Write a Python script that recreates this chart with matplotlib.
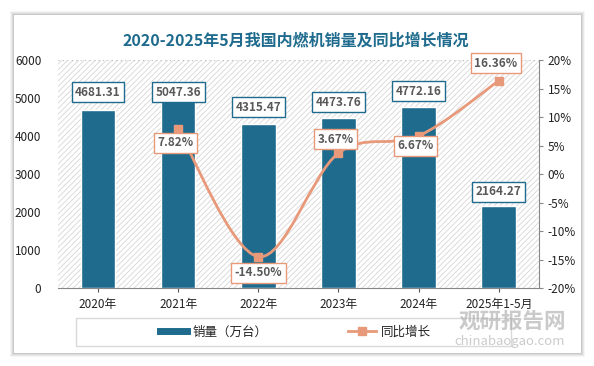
import numpy as np
import matplotlib.pyplot as plt
from matplotlib.patches import Rectangle, PathPatch
from matplotlib.path import Path
from matplotlib.lines import Line2D

plt.rcParams['font.family'] = ['Noto Sans CJK SC', 'DejaVu Sans']
plt.rcParams['hatch.linewidth'] = 0.6
plt.rcParams['hatch.color'] = '#d6d6d6'

years = ['2020年', '2021年', '2022年', '2023年', '2024年', '2025年1-5月']
sales = [4681.31, 5047.36, 4315.47, 4473.76, 4772.16, 2164.27]
growth = [7.82, -14.50, 3.67, 6.67, 16.36]   # 2021 .. 2025
# label offsets (points)
sales_off = [13, 3, 12, 11.5, 11, 10]
growth_off = [(-2, -9.5), (0, -11.5), (-2, 10), (-2, -7), (-2, 12.5)]

BAR = '#1f6b8e'
LINE = '#e8997a'
TXT = '#595959'

fig = plt.figure(figsize=(5.94, 3.66), dpi=100)
fig.patch.set_facecolor('white')

# card with soft shadow
for i, a in enumerate([0.04, 0.05, 0.06, 0.08]):
    d = (4 - i) / 594
    fig.patches.append(Rectangle((0.0236 - d, 0.0355 - d * 1.6), 0.9545 + 2 * d, 0.9235 + 2 * d * 1.6,
                                 transform=fig.transFigure, facecolor='black', alpha=a,
                                 edgecolor='none', zorder=-3))
fig.patches.append(Rectangle((0.0236, 0.0355), 0.9545, 0.9235, transform=fig.transFigure,
                             facecolor='white', edgecolor='none', zorder=-2))

ax = fig.add_axes([0.0976, 0.213, 0.8094, 0.623])
ax.set_facecolor('white')
ax.patch.set_hatch('//////')
ax.patch.set_edgecolor('#d6d6d6')
ax.patch.set_linewidth(0)

x = np.arange(len(years))
ax.bar(x, sales, width=0.43, color=BAR, edgecolor='white', linewidth=1, zorder=2)
ax.set_xlim(-0.5, 5.5)
ax.set_ylim(0, 6000)
ax.set_yticks(range(0, 6001, 1000))
ax.set_xticks(x)
ax.set_xticklabels(years, fontsize=8.5, color='#222222')
ax.tick_params(axis='y', length=0, labelsize=8.5, labelcolor='#222222', pad=12)
ax.tick_params(axis='x', length=3, color='#555555', pad=4)
for s in ['left', 'right', 'top']:
    ax.spines[s].set_visible(False)
ax.spines['bottom'].set_color('#888888')
ax.axhline(6000, color='#bbbbbb', lw=0.8, ls=(0, (1, 3)), zorder=1)

for xi, v, off in zip(x, sales, sales_off):
    ax.annotate(f'{v:.2f}', (xi, v), xytext=(0, off), textcoords='offset points',
                ha='center', va='center', fontsize=8.5, fontweight='bold', color=TXT,
                bbox=dict(boxstyle='square,pad=0.3', fc='white', ec=BAR, lw=1), zorder=6)

ax2 = ax.twinx()
ax2.set_ylim(-20, 20)
ax2.set_yticks(range(-20, 21, 5))
ax2.set_yticklabels([f'{t}%' for t in range(-20, 21, 5)])
ax2.tick_params(axis='y', length=3, color='#888888', labelsize=8.5, labelcolor='#222222')
for s in ['left', 'top', 'bottom']:
    ax2.spines[s].set_visible(False)
ax2.spines['right'].set_color('#888888')

# smooth line through growth points (Catmull-Rom -> cubic Bezier)
gx = x[1:].astype(float)
gy = np.array(growth)
pts = np.column_stack([gx, gy])
verts = [pts[0]]
codes = [Path.MOVETO]
for i in range(len(pts) - 1):
    p0 = pts[i - 1] if i > 0 else pts[i]
    p1, p2 = pts[i], pts[i + 1]
    p3 = pts[i + 2] if i + 2 < len(pts) else pts[i + 1]
    c1 = p1 + (p2 - p0) / 6
    c2 = p2 - (p3 - p1) / 6
    verts += [c1, c2, p2]
    codes += [Path.CURVE4] * 3
ax2.add_patch(PathPatch(Path(verts, codes), fill=False, ec=LINE, lw=2, zorder=4))
ax2.plot(gx, gy, ls='none', marker='s', ms=6, color=LINE, zorder=5)

for xi, v, off in zip(gx, gy, growth_off):
    ax2.annotate(f'{v:.2f}%', (xi, v), xytext=off, textcoords='offset points',
                 ha='center', va='center', fontsize=8.5, fontweight='bold', color=TXT,
                 bbox=dict(boxstyle='square,pad=0.3', fc='white', ec=LINE, lw=1), zorder=7)

fig.text(0.498, 0.89, '2020-2025年5月我国内燃机销量及同比增长情况', ha='center', va='center',
         fontsize=11.5, fontweight='bold', color='#1f6b8e')

# legend
fig.patches.append(Rectangle((76 / 594, 1 - 346 / 366), 435 / 594, 28 / 366, transform=fig.transFigure,
                             facecolor='white', edgecolor='#d9d9d9', lw=1, zorder=-1))
handles = [Line2D([], [], color=BAR, lw=5),
           Line2D([], [], color=LINE, lw=2, marker='s', ms=6)]
leg = fig.legend(handles, ['销量（万台）', '同比增长'], loc='center', bbox_to_anchor=(0.497, 1 - 332 / 366),
                 ncol=2, frameon=False, fontsize=9, handlelength=2.2, columnspacing=6.5,
                 handletextpad=0.4)
for t in leg.get_texts():
    t.set_color('#222222')

# watermark
fig.text(512 / 594, 1 - 321 / 366, '观研报告网', ha='center', va='center', fontsize=15.5, fontweight='bold',
         color='#a8a8a8', alpha=0.6, zorder=10)
fig.text(510 / 594, 1 - 342 / 366, 'chinabaogao.com', ha='center', va='center', fontsize=9.5,
         color='#a8a8a8', alpha=0.6, zorder=10)

fig.savefig('out.png', dpi=100)
